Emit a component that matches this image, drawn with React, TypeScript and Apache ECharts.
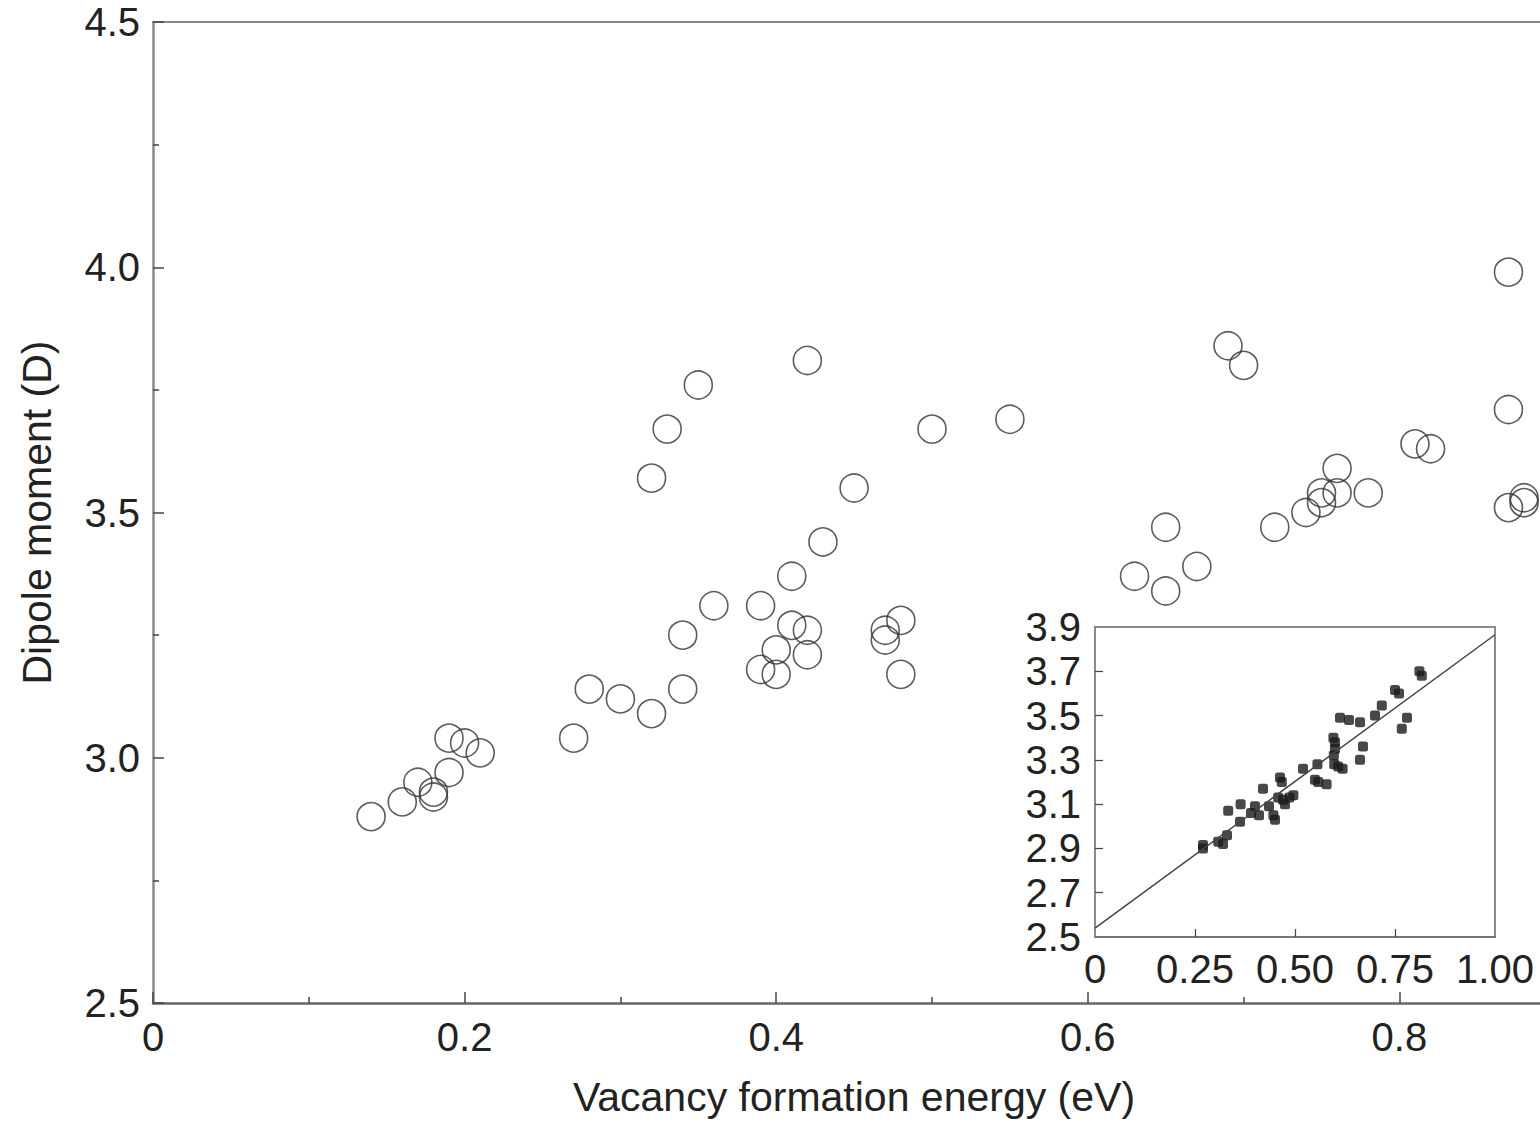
import React, { useEffect, useRef } from "react";
import * as echarts from "echarts";

// Main panel: vacancy formation energy (eV) vs dipole moment (D)
const mainEnergy = [
  0.14, 0.16, 0.17, 0.18, 0.18, 0.19, 0.19, 0.20, 0.21, 0.27,
  0.28, 0.30, 0.32, 0.32, 0.33, 0.34, 0.34, 0.35, 0.36, 0.39,
  0.39, 0.40, 0.40, 0.41, 0.41, 0.42, 0.42, 0.42, 0.43, 0.45,
  0.47, 0.47, 0.48, 0.48, 0.50, 0.55, 0.63, 0.65, 0.65, 0.67,
  0.69, 0.70, 0.72, 0.74, 0.75, 0.75, 0.76, 0.76, 0.78, 0.81,
  0.82, 0.87, 0.87, 0.87, 0.88, 0.88,
];
const mainDipole = [
  2.88, 2.91, 2.95, 2.93, 2.92, 2.97, 3.04, 3.03, 3.01, 3.04,
  3.14, 3.12, 3.09, 3.57, 3.67, 3.25, 3.14, 3.76, 3.31, 3.31,
  3.18, 3.22, 3.17, 3.37, 3.27, 3.81, 3.26, 3.21, 3.44, 3.55,
  3.26, 3.24, 3.28, 3.17, 3.67, 3.69, 3.37, 3.47, 3.34, 3.39,
  3.84, 3.80, 3.47, 3.50, 3.54, 3.52, 3.59, 3.54, 3.54, 3.64,
  3.63, 3.99, 3.71, 3.51, 3.53, 3.52,
];

// Inset panel
const insetX = [
  0.27, 0.27, 0.308, 0.32, 0.33, 0.333, 0.3625, 0.364, 0.39, 0.40,
  0.41, 0.42, 0.435, 0.446, 0.45, 0.4625, 0.467, 0.458, 0.47, 0.475,
  0.486, 0.496, 0.52, 0.55, 0.556, 0.558, 0.579, 0.596, 0.60, 0.60,
  0.597, 0.598, 0.608, 0.619, 0.6125, 0.635, 0.6625, 0.67, 0.6625, 0.70,
  0.717, 0.75, 0.76, 0.767, 0.78, 0.811, 0.817,
];
const insetY = [
  2.90, 2.915, 2.93, 2.92, 2.96, 3.07, 3.02, 3.10, 3.06, 3.09,
  3.05, 3.17, 3.09, 3.05, 3.03, 3.22, 3.20, 3.13, 3.12, 3.10,
  3.13, 3.14, 3.26, 3.21, 3.28, 3.20, 3.19, 3.40, 3.38, 3.35,
  3.32, 3.28, 3.27, 3.26, 3.49, 3.48, 3.47, 3.36, 3.30, 3.50,
  3.545, 3.615, 3.60, 3.44, 3.49, 3.70, 3.68,
];
const insetLineX = [0, 1.0];
const insetLineY = [2.54, 3.865];

const mainYTicks = [2.5, 3.0, 3.5, 4.0, 4.5];
const insetYTicks = [2.5, 2.7, 2.9, 3.1, 3.3, 3.5, 3.7, 3.9];
const insetXTicks = [0, 0.25, 0.5, 0.75, 1.0];

const xTitle = "Vacancy formation energy (eV)";
const yTitle = "Dipole moment (D)";

const FONT = "'Liberation Sans', Arial, sans-serif";
const TEXT = "#222";
const AXIS = "#8a8a8a";

export default function App() {
  const ref = useRef<HTMLDivElement>(null);
  useEffect(() => {
    if (!ref.current) return;
    const chart = echarts.init(ref.current, null, { renderer: "svg" });
    const mainData = mainEnergy.map((x, i) => [x, mainDipole[i]]);
    const insetData = insetX.map((x, i) => [x, insetY[i]]);
    const lineData = insetLineX.map((x, i) => [x, insetLineY[i]]);

    const label = { fontFamily: FONT, fontSize: 40, color: TEXT };
    chart.setOption({
      animation: false,
      backgroundColor: "#fff",
      grid: [
        { left: 153, top: 22, width: 1558, height: 981, containLabel: false, outerBoundsMode: "none" },
        { left: 1095, top: 627, width: 400, height: 310, containLabel: false, outerBoundsMode: "none" },
      ],
      graphic: [
        {
          type: "text", x: 854, y: 1097,
          style: { text: xTitle, fontFamily: FONT, fontSize: 41, fill: TEXT,
            align: "center", verticalAlign: "middle" },
        },
      ],
      xAxis: [
        {
          type: "value", gridIndex: 0, min: 0, max: 1.0, interval: 0.2,
          axisLine: { show: true, onZero: false, lineStyle: { color: "#666", width: 2.5 } },
          axisTick: { show: true, inside: true, length: 11, lineStyle: { color: "#444", width: 1.5 } },
          minorTick: { show: true, splitNumber: 2, length: 6, lineStyle: { color: "#444", width: 1.5 } },
          axisLabel: { ...label, margin: 14, showMaxLabel: false,
            formatter: (v: number) => (v === 0 ? "0" : v.toFixed(1)) },
          splitLine: { show: false },
        },
        {
          type: "value", gridIndex: 0, position: "top", min: 0, max: 1.0,
          axisLine: { show: true, onZero: false, lineStyle: { color: AXIS, width: 2 } },
          axisTick: { show: false }, axisLabel: { show: false }, splitLine: { show: false },
        },
        {
          type: "value", gridIndex: 1, min: 0, max: 1.0,
          axisLine: { show: true, onZero: false, lineStyle: { color: "#777", width: 2 } },
          axisTick: { show: true, inside: true, length: 8, customValues: [0.25, 0.5, 0.75],
            lineStyle: { color: "#444", width: 1.2 } },
          axisLabel: { ...label, margin: 12, customValues: insetXTicks,
            formatter: (v: number) => (v === 0 ? "0" : v.toFixed(2)) },
          splitLine: { show: false },
        },
        {
          type: "value", gridIndex: 1, position: "top", min: 0, max: 1.0,
          axisLine: { show: true, onZero: false, lineStyle: { color: AXIS, width: 2 } },
          axisTick: { show: false }, axisLabel: { show: false }, splitLine: { show: false },
        },
      ],
      yAxis: [
        {
          type: "value", gridIndex: 0, min: 2.5, max: 4.5,
          name: yTitle, nameLocation: "middle", nameGap: 96,
          nameTextStyle: { fontFamily: FONT, fontSize: 41, color: TEXT },
          axisLine: { show: true, onZero: false, lineStyle: { color: AXIS, width: 2.5 } },
          axisTick: { show: true, inside: true, length: 11, customValues: mainYTicks,
            lineStyle: { color: "#444", width: 1.5 } },
          minorTick: { show: true, splitNumber: 2, length: 6, lineStyle: { color: "#444", width: 1.5 } },
          interval: 0.5,
          axisLabel: { ...label, margin: 13, customValues: mainYTicks,
            formatter: (v: number) => v.toFixed(1) },
          splitLine: { show: false },
        },
        {
          type: "value", gridIndex: 1, min: 2.5, max: 3.9,
          axisLine: { show: true, onZero: false, lineStyle: { color: AXIS, width: 2 } },
          axisTick: { show: true, inside: true, length: 8, customValues: insetYTicks.slice(1, -1),
            lineStyle: { color: "#444", width: 1.2 } },
          axisLabel: { ...label, margin: 14, customValues: insetYTicks,
            formatter: (v: number) => v.toFixed(1) },
          splitLine: { show: false },
        },
        {
          type: "value", gridIndex: 1, position: "right", min: 2.5, max: 3.9,
          axisLine: { show: true, onZero: false, lineStyle: { color: AXIS, width: 2 } },
          axisTick: { show: false }, axisLabel: { show: false }, splitLine: { show: false },
        },
      ],
      series: [
        {
          type: "scatter", xAxisIndex: 0, yAxisIndex: 0, data: mainData,
          symbol: "circle", symbolSize: 28,
          itemStyle: { color: "rgba(0,0,0,0)", borderColor: "#333", borderWidth: 1.6 },
        },
        {
          type: "line", xAxisIndex: 2, yAxisIndex: 1, data: lineData,
          showSymbol: false, lineStyle: { color: "#444", width: 1.5 },
        },
        {
          type: "scatter", xAxisIndex: 2, yAxisIndex: 1, data: insetData,
          symbol: "roundRect", symbolSize: 10,
          itemStyle: { color: "#1a1a1a" },
        },
      ],
    });
    return () => chart.dispose();
  }, []);
  return (
    <div
      ref={ref}
      style={{ position: "absolute", left: 0, top: 0, width: 1540, height: 1122, overflow: "hidden" }}
    />
  );
}
